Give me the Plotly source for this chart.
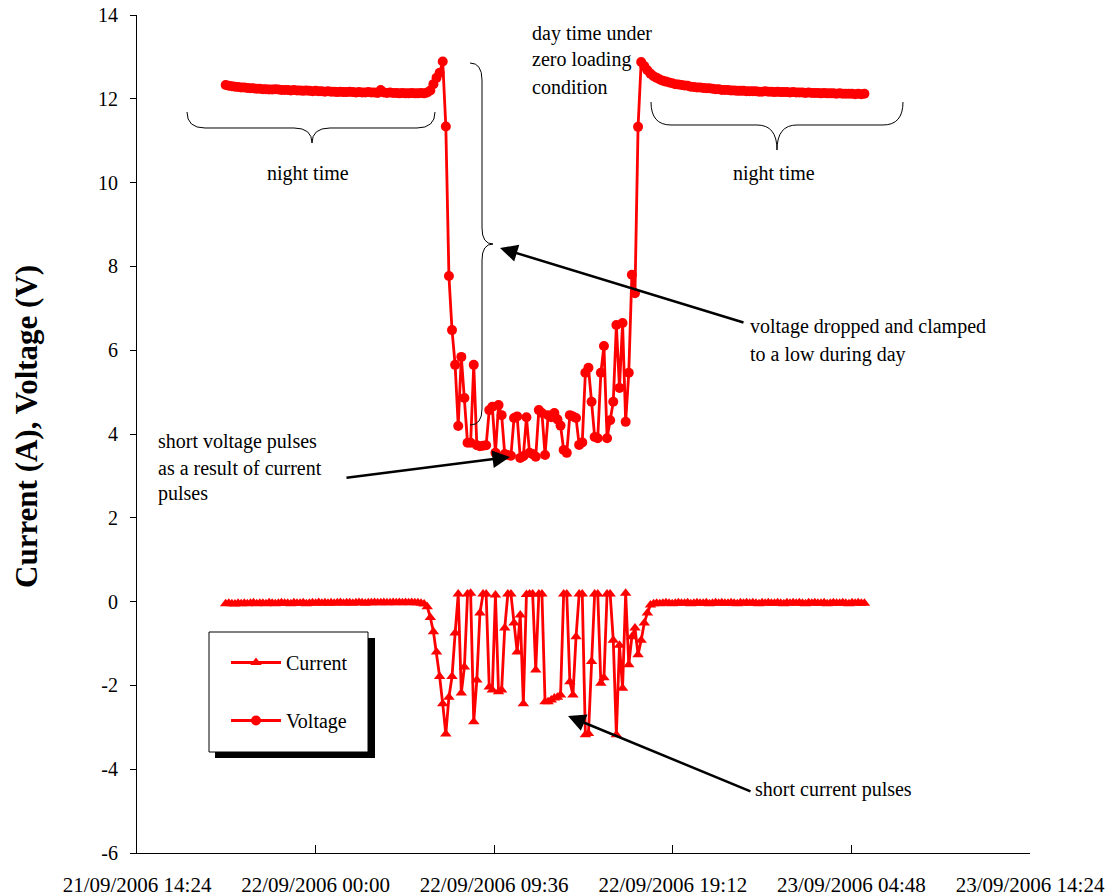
import pandas as pd
import plotly.graph_objects as go

# ---------------- data (10-minute samples) ----------------
start_time = "2006-09-21 19:10"

voltage_night1 = [
    12.33, 12.31, 12.30, 12.29, 12.28, 12.27, 12.27, 12.26, 12.25, 12.25,
    12.24, 12.24, 12.23, 12.23, 12.22, 12.22, 12.23, 12.22, 12.21, 12.21,
    12.21, 12.20, 12.21, 12.20, 12.20, 12.19, 12.20, 12.19, 12.18, 12.19,
    12.18, 12.18, 12.17, 12.18, 12.17, 12.17, 12.16, 12.17, 12.16, 12.16,
    12.17, 12.16, 12.15, 12.16, 12.15, 12.15, 12.16, 12.15, 12.15, 12.14,
    12.21, 12.15, 12.14, 12.15, 12.14, 12.14, 12.13, 12.14, 12.13, 12.13,
    12.14, 12.13, 12.13, 12.14, 12.13, 12.15,
    12.20, 12.35, 12.50, 12.62,
]
voltage_day = [
    12.89, 11.34, 7.77, 6.48, 5.65, 4.19, 5.84, 4.86, 3.79, 3.79,
    5.65, 3.73, 3.71, 3.72, 3.73, 4.57, 4.65, 3.55, 4.69, 4.45,
    3.52, 3.50, 3.48, 4.38, 4.42, 3.43, 3.47, 4.40, 3.55, 3.52,
    3.46, 4.57, 4.50, 3.50, 4.45, 4.40, 4.50, 4.35, 4.20, 3.62,
    3.55, 4.45, 4.42, 4.38, 3.74, 3.80, 5.46, 5.58, 4.77, 3.93,
    3.90, 5.46, 6.10, 3.90, 4.33, 4.77, 6.60, 5.10, 6.65, 4.29,
    5.46, 7.80, 7.36, 11.33, 12.88,
]
voltage_night2 = [
    12.78, 12.68, 12.60, 12.54, 12.50, 12.46, 12.43, 12.41, 12.39, 12.37,
    12.35, 12.34, 12.33, 12.32, 12.31, 12.29, 12.28, 12.27, 12.27, 12.26,
    12.25, 12.25, 12.24, 12.23, 12.23, 12.21, 12.21, 12.21, 12.20, 12.20,
    12.19, 12.19, 12.19, 12.18, 12.18, 12.18, 12.18, 12.17, 12.17, 12.18,
    12.17, 12.17, 12.16, 12.17, 12.16, 12.16, 12.16, 12.15, 12.16, 12.15,
    12.15, 12.15, 12.14, 12.15, 12.14, 12.14, 12.14, 12.13, 12.14, 12.13,
    12.13, 12.13, 12.12, 12.13, 12.12, 12.12, 12.12, 12.12, 12.11, 12.12,
    12.11, 12.12,
]

current_night1 = [
    -0.05, -0.04, -0.05, -0.06, -0.04, -0.05, -0.04, -0.05, -0.04, -0.03,
    -0.05, -0.04, -0.04, -0.05, -0.03, -0.04, -0.05, -0.04, -0.03, -0.04,
    -0.04, -0.05, -0.03, -0.04, -0.04, -0.03, -0.05, -0.04, -0.03, -0.04,
    -0.02, -0.04, -0.03, -0.04, -0.03, -0.04, -0.03, -0.02, -0.04, -0.03,
    -0.03, -0.04, -0.03, -0.02, -0.03, -0.04, -0.03, -0.03, -0.02, -0.03,
    -0.03, -0.02, -0.03, -0.03, -0.02, -0.03, -0.02, -0.03, -0.02, -0.03,
    -0.02, -0.03, -0.03, -0.04, -0.06, -0.12,
]
current_day = [
    -0.38, -0.72, -1.20, -1.79, -2.44, -3.16, -2.28, -1.79, -0.75, 0.18,
    -2.18, -1.56, 0.18, 0.20, -2.87, -1.87, -0.27, 0.18, 0.18, -2.04,
    -2.11, 0.16, -2.15, -2.11, -0.63, 0.18, 0.18, -0.51, -1.20, -0.32,
    -2.44, 0.17, 0.18, 0.18, -1.63, 0.18, 0.18, -2.39, -2.39, -2.35,
    -2.30, -2.28, -2.23, 0.18, 0.18, -1.91, -2.23, -0.84, 0.18, 0.18,
    -3.18, -3.15, -1.43, 0.18, 0.18, -1.95, -1.82, 0.18, 0.18, -0.92,
    -3.18, -1.04, -2.07, 0.20, -1.51, -0.84, -0.63, -1.27, -0.92, -0.51,
    -0.27, -0.08,
]
current_night2 = [
    -0.05, -0.04, -0.05, -0.04, -0.03, -0.04, -0.05, -0.04, -0.03, -0.04,
    -0.04, -0.03, -0.05, -0.04, -0.03, -0.04, -0.04, -0.03, -0.05, -0.04,
    -0.03, -0.04, -0.03, -0.04, -0.04, -0.03, -0.04, -0.05, -0.03, -0.04,
    -0.03, -0.04, -0.03, -0.04, -0.05, -0.03, -0.04, -0.03, -0.04, -0.04,
    -0.03, -0.04, -0.05, -0.03, -0.04, -0.03, -0.04, -0.03, -0.04, -0.05,
    -0.03, -0.04, -0.03, -0.04, -0.04, -0.03, -0.05, -0.04, -0.03, -0.04,
    -0.04, -0.03, -0.04, -0.05, -0.03, -0.04, -0.03, -0.04, -0.04,
]

x_tick_start = "2006-09-21 14:24"
x_range = ["2006-09-21 14:24", "2006-09-23 14:24"]
y_range = [-6, 14]
y_tick_values = [-6, -4, -2, 0, 2, 4, 6, 8, 10, 12, 14]
y_tick_labels = ["-6", "-4", "-2", "0", "2", "4", "6", "8", "10", "12", "14"]

voltage = voltage_night1 + voltage_day + voltage_night2
current = current_night1 + current_day + current_night2
t_v = pd.date_range(start_time, periods=len(voltage), freq="10min")
t_c = pd.date_range(start_time, periods=len(current), freq="10min")

# ---------------- layout helpers ----------------
W, H = 1112, 896
L, R, T, B = 137, 1030, 15, 853
FONT = "Liberation Serif, Times New Roman, serif"


def fx(px):
    return (px - L) / (R - L)


def fy(py):
    return (B - py) / (B - T)


def path(cmds):
    out = []
    for c in cmds:
        if isinstance(c, str):
            out.append(c)
        else:
            out.append(f"{fx(c[0]):.5f},{fy(c[1]):.5f}")
    return " ".join(out)


fig = go.Figure()
fig.add_trace(go.Scatter(
    x=t_c, y=current, name="Current", mode="lines+markers",
    line=dict(color="#ff0000", width=2.8),
    marker=dict(symbol="triangle-up", size=10, color="#ff0000"),
    legendgroup="c",
))
fig.add_trace(go.Scatter(
    x=t_v, y=voltage, name="Voltage", mode="lines+markers",
    line=dict(color="#ff0000", width=2.8),
    marker=dict(symbol="circle", size=10, color="#ff0000"),
    legendgroup="v",
))

shapes = []
# legend box with shadow
shapes.append(dict(type="rect", xref="paper", yref="paper",
                   x0=fx(215), x1=fx(375), y0=fy(758), y1=fy(638),
                   fillcolor="black", line=dict(width=0), layer="above"))
shapes.append(dict(type="rect", xref="paper", yref="paper",
                   x0=fx(209), x1=fx(368), y0=fy(752), y1=fy(632),
                   fillcolor="white", line=dict(width=1, color="black"), layer="above"))

# curly braces
left_brace = ["M", (187, 112), "Q", (187, 128), (205, 128), "L", (294, 128),
              "Q", (312, 128), (312, 143), "Q", (312, 128), (330, 128),
              "L", (417, 128), "Q", (435, 128), (435, 112)]
right_brace = ["M", (651, 102), "Q", (651, 125), (671, 125), "L", (757, 125),
               "Q", (777, 125), (777, 150), "Q", (777, 125), (797, 125),
               "L", (883, 125), "Q", (903, 125), (903, 102)]
vert_brace = ["M", (470, 63), "Q", (482, 63), (482, 80), "L", (482, 228),
              "Q", (482, 244), (493, 244), "Q", (482, 244), (482, 260),
              "L", (482, 409), "Q", (482, 425), (470, 425)]
for b in (left_brace, right_brace, vert_brace):
    shapes.append(dict(type="path", xref="paper", yref="paper", path=path(b),
                       line=dict(color="black", width=1)))

annotations = []


def text(s, px, py, anchor="left", size=20):
    annotations.append(dict(text=s, xref="paper", yref="paper", x=fx(px), y=fy(py),
                            xanchor=anchor, yanchor="middle", showarrow=False,
                            font=dict(family=FONT, size=size, color="black")))


text("day time under", 530, 33)
text("zero loading", 530, 60)
text("condition", 530, 87)
text("night time", 308, 173, "center")
text("night time", 774, 173, "center")
text("voltage dropped and clamped", 748, 327)
text("to a low during day", 748, 354)
text("short voltage pulses", 156, 441)
text("as a result of current", 156, 468)
text("pulses", 156, 494)
text("short current pulses", 753, 789)


def arrow(head, tail):
    annotations.append(dict(text="", xref="paper", yref="paper",
                            x=fx(head[0]), y=fy(head[1]),
                            ax=tail[0] - head[0], ay=tail[1] - head[1],
                            showarrow=True, arrowhead=2, arrowsize=1.4,
                            arrowwidth=2.5, arrowcolor="black"))


arrow((500, 248), (745, 323))
arrow((510, 457), (345, 478))
arrow((568, 716), (752, 792))

# y-axis title
annotations.append(dict(text="<b>Current (A), Voltage (V)</b>", xref="paper", yref="paper",
                        x=fx(26), y=fy(427), xanchor="center", yanchor="middle",
                        textangle=-90, showarrow=False,
                        font=dict(family=FONT, size=31, color="black")))

fig.update_layout(
    width=W, height=H,
    margin=dict(l=L, r=W - R, t=T, b=H - B, autoexpand=False),
    paper_bgcolor="white", plot_bgcolor="white",
    font=dict(family=FONT, size=20, color="black"),
    showlegend=True,
    legend=dict(x=fx(226), y=fy(643), xanchor="left", yanchor="top",
                bgcolor="rgba(0,0,0,0)", borderwidth=0,
                font=dict(family=FONT, size=20, color="black"),
                tracegroupgap=29, itemwidth=50),
    shapes=shapes,
    annotations=annotations,
    xaxis=dict(type="date", range=x_range, tick0=x_tick_start, dtick=9.6 * 3600 * 1000,
               tickformat="%d/%m/%Y %H:%M", ticks="inside", ticklen=8,
               tickcolor="black", showline=True, linecolor="black", linewidth=1,
               showgrid=False, zeroline=False, ticklabelstandoff=13,
               tickfont=dict(family=FONT, size=21, color="black")),
    yaxis=dict(range=y_range, tickmode="array", tickvals=y_tick_values,
               ticktext=y_tick_labels, ticks="outside", ticklen=6, tickcolor="black",
               showline=True, linecolor="black", linewidth=1, showgrid=False,
               zeroline=False, ticklabelstandoff=8,
               tickfont=dict(family=FONT, size=20, color="black")),
)

fig.write_html("out.html")
